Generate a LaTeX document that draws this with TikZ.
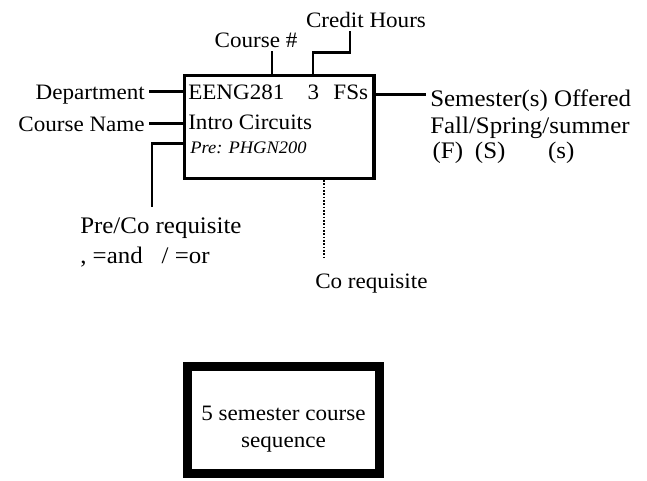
\documentclass[tikz,border=0pt]{standalone}
\usepackage{fontspec}
\setmainfont{Liberation Serif}[FakeStretch=1.05]
\usepackage{tikz}
\usetikzlibrary{positioning,calc}
\newcommand{\tagfont}{\fontsize{16.5}{19}\selectfont}
\newcommand{\bigfont}{\fontsize{17.8}{21}\selectfont}
\newcommand{\prefont}{\fontsize{13.2}{15}\selectfont\itshape}
\tikzstyle{course}=[draw, line width=2.4pt, minimum width=142pt,
minimum height=77pt, inner sep=0pt]
\tikzstyle{seqbox}=[draw, line width=6.75pt, minimum width=144pt,
minimum height=80.6pt, align=center, font=\fontsize{16.5}{20}\selectfont]
\tikzstyle{boxtxt}=[anchor=base west, inner sep=0pt, font=\tagfont]
\tikzstyle{tagtxt}=[font=\tagfont, inner sep=3pt, text height=11pt, text depth=0pt]
\tikzstyle{bigtxt}=[font=\bigfont, inner sep=3pt, text height=11.8pt, text depth=0pt]
\tikzstyle{wire}=[draw, line width=2pt]
\tikzstyle{dotwire}=[draw, line width=1.6pt, dash pattern=on 1.4pt off 1.1pt]

\begin{document}
\begin{tikzpicture}[x=0.75pt,y=-0.75pt]
  \useasboundingbox (0,0) rectangle (647,480);

  % Draw diagram elements
  \node (p1) [course] at (279.25,127) {};
  \node (l1) [boxtxt] at (188,99) {EENG281\hspace{1.05em}3\hspace{0.65em}FSs};
  \node (l2) [boxtxt] at (188,129) {Intro Circuits};
  \node (l3) [boxtxt, font=\prefont] at (190,153) {Pre: PHGN200};

  \node (t1) [tagtxt, anchor=base] at (256,47) {Course \#};
  \node (t2) [tagtxt, anchor=base] at (366,27) {Credit Hours};
  \node (t3) [tagtxt, anchor=base east] at (149,99) {Department};
  \node (t4) [tagtxt, anchor=base east] at (149,131) {Course Name};
  \node (t5) [bigtxt, anchor=base west] at (426,106) {Semester(s) Offered};
  \node (t6) [bigtxt, anchor=base west] at (426,133) {Fall/Spring/summer};
  \node (t7) [bigtxt, anchor=base west] at (426,158) {\hspace*{0.1em}(F)\hspace{0.5em}(S)\hspace{1.8em}(s)};
  \node (t8) [bigtxt, anchor=base west] at (76,233) {Pre/Co requisite};
  \node (t9) [bigtxt, anchor=base west] at (76,263) {, =and\hspace{0.8em}/ =or};
  \node (t10) [tagtxt, anchor=base west] at (311,288) {Co requisite};

  \node (p2) [seqbox] at (283.5,420.25) {\rule{0pt}{24pt}5 semester course\\sequence};

  \coordinate (k1) at (152,207);
  \coordinate (k2) at (324,257);
  \coordinate (k3) at ($(t5.west)+(0,-3.5)$);

  % Draw lines between elements
  \path [wire] ([xshift=12pt]t1.south) -- ([xshift=12pt]t1.south |- p1.north);
  \path [wire] ([xshift=-12pt]t2.south) -- ++(0,21) -| ([xshift=25.3pt]p1.north);
  \path [wire] (t3.east) -- (t3.east -| p1.west);
  \path [wire] (t4.east) -- (t4.east -| p1.west);
  \path [wire] (p1.east |- k3) -- (k3);
  \path [wire] ($(p1.west)+(0,16.5)$) -| (k1);
  \path [dotwire] (p1.south -| k2) -- (k2);

\end{tikzpicture}
\end{document}
